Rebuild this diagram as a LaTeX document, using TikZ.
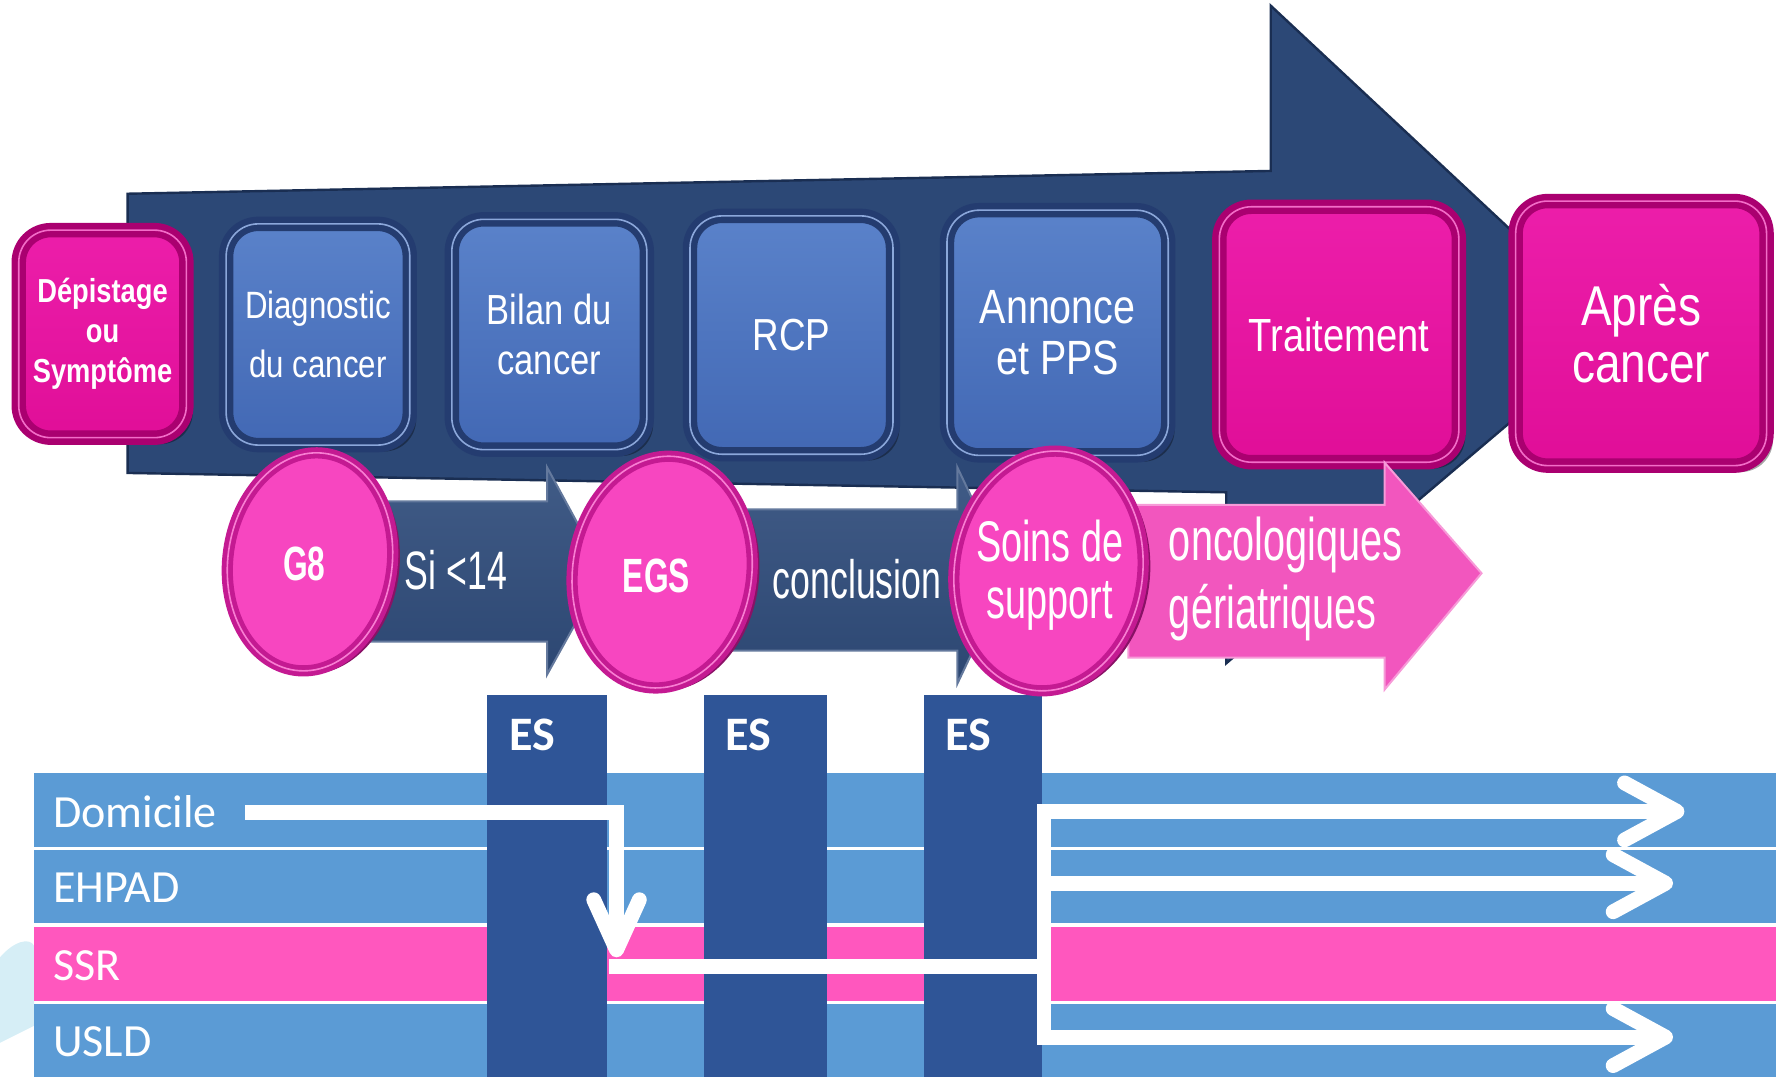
\documentclass[tikz,border=0pt]{standalone}
\usepackage{fontspec}
\usepackage{tikz}
\usetikzlibrary{arrows.meta,shapes}

\newfontfamily\boxfont[FakeStretch=0.82]{Liberation Sans}
\newfontfamily\tallfont[FakeStretch=0.66]{Liberation Sans}
\newfontfamily\bandfont{Carlito}

\definecolor{navy}{RGB}{44,72,118}
\definecolor{navyedge}{RGB}{26,46,82}
\definecolor{facetop}{RGB}{90,130,202}
\definecolor{facebot}{RGB}{66,104,180}
\definecolor{rimblue}{RGB}{36,60,112}
\definecolor{pinktop}{RGB}{236,30,170}
\definecolor{pinkbot}{RGB}{224,14,152}
\definecolor{rimpink}{RGB}{170,0,112}
\definecolor{ballpink}{RGB}{247,70,192}
\definecolor{ballrim}{RGB}{196,26,146}
\definecolor{hintpink}{RGB}{242,86,190}
\definecolor{darkarrow}{RGB}{48,77,124}
\definecolor{bandblue}{RGB}{91,155,213}
\definecolor{bandpink}{RGB}{255,87,190}
\definecolor{esblue}{RGB}{47,85,151}
\definecolor{haze}{RGB}{214,238,246}

\tikzstyle{stage}=[rectangle,rounded corners=8pt,inner sep=0pt,align=center,text=white,
  draw=rimblue,line width=1.6pt,double=facetop!70!white,double distance=0.4pt,
  top color=facetop,bottom color=facebot,
  preaction={fill=black,opacity=0.35,transform canvas={shift={(1.6pt,-1.6pt)}}}]
\tikzstyle{hot}=[stage,draw=rimpink,double=pinktop!65!white,top color=pinktop,bottom color=pinkbot]
\tikzstyle{ball}=[ellipse,inner sep=0pt,fill=ballpink,draw=ballrim,line width=1.2pt,
  double=ballpink!70!white,double distance=0.4pt,
  preaction={fill=ballrim!70!black,transform canvas={shift={(1.8pt,-0.8pt)}}}]
\tikzstyle{balltxt}=[text=white,font=\tallfont\bfseries\fontsize{12}{14}\selectfont]
\tikzstyle{lowtxt}=[text=white,inner sep=0pt,font=\tallfont\fontsize{13.5}{15}\selectfont]
\tikzstyle{hint}=[top color=darkarrow!92!white,bottom color=darkarrow!92!black,
  draw=darkarrow!75!white,line width=0.5pt]
\tikzstyle{band}=[rectangle,inner sep=0pt,minimum width=15.28cm]
\tikzstyle{bandtxt}=[text=white,inner sep=0pt,anchor=west,font=\bandfont\fontsize{11.5}{13}\selectfont]
\tikzstyle{esbar}=[rectangle,inner sep=0pt,fill=esblue,minimum height=3.35cm]
\tikzstyle{estxt}=[text=white,inner sep=0pt,anchor=west,font=\bandfont\bfseries\fontsize{12}{14}\selectfont]

\begin{document}
\begin{tikzpicture}[x=0.01cm,y=-0.01cm]
        \tikzset{flow/.style={draw=white,line width=0.13cm,>={Straight Barb[length=4.6mm,width=5mm,round]}}}
        \useasboundingbox (0,0) rectangle (1568,949);

        % faint swirl at the left edge
        \fill[haze] (0,840) .. controls (12,826) and (26,822) .. (30,830) -- (30,900)
          .. controls (18,906) and (6,912) .. (0,915) -- cycle;

        % big arrow behind the care pathway
        \fill[navy,draw=navyedge,line width=0.6pt] (112,170) -- (1115,150) -- (1115,5)
          -- (1420,290) -- (1076,582) -- (1076,432) -- (112,415) -- cycle;

        % steps of the pathway
        \node[hot,minimum width=1.47cm,minimum height=1.82cm,
          font=\boxfont\bfseries\fontsize{8.3}{10}\selectfont] (dep) at (90,293) {Dépistage\\ou\\Symptôme};
        \node[stage,minimum width=1.61cm,minimum height=1.94cm,
          font=\boxfont\fontsize{9.5}{14.8}\selectfont] (diag) at (279,293.5) {Diagnostic\\du cancer};
        \node[stage,minimum width=1.71cm,minimum height=2.02cm,
          font=\boxfont\fontsize{10.5}{12.5}\selectfont] (bilan) at (482,293.5) {Bilan du\\cancer};
        \node[stage,minimum width=1.78cm,minimum height=2.09cm,
          font=\boxfont\fontsize{11.2}{13}\selectfont] (rcp) at (694.5,294) {RCP};
        \node[stage,minimum width=1.94cm,minimum height=2.15cm,
          font=\boxfont\fontsize{12}{12.8}\selectfont] (pps) at (928,292) {Annonce\\et PPS};
        \node[hot,minimum width=2.10cm,minimum height=2.24cm,
          font=\boxfont\fontsize{11.6}{13}\selectfont] (trait) at (1175,293.5) {Traitement};
        \node[hot,minimum width=2.20cm,minimum height=2.32cm,
          font=\boxfont\fontsize{14}{14.2}\selectfont] (apres) at (1440,292.5) {Après\\cancer};

        % places of life
        \node[band,fill=bandblue,minimum height=0.65cm] (dom) at (794,710.5) {};
        \node[band,fill=bandblue,minimum height=0.64cm] (ehpad) at (794,778) {};
        \node[band,fill=bandpink,minimum height=0.65cm] (ssr) at (794,845.5) {};
        \node[band,fill=bandblue,minimum height=0.64cm] (usld) at (794,913) {};
        \node[bandtxt] (domt) at (46,712) {Domicile};
        \node[bandtxt] (ehpadt) at (46,779) {EHPAD};
        \node[bandtxt] (ssrt) at (46,847) {SSR};
        \node[bandtxt] (usldt) at (46,914) {USLD};

        \node[esbar,minimum width=1.06cm] (es1) at (480,777.5) {};
        \node[esbar,minimum width=1.08cm] (es2) at (672,777.5) {};
        \node[esbar,minimum width=1.03cm] (es3) at (862.5,777.5) {};
        \node[estxt] (es1t) at (446,645) {ES};
        \node[estxt] (es2t) at (636,645) {ES};
        \node[estxt] (es3t) at (829,645) {ES};

        \coordinate (domA) at (215,713);
        \coordinate (domB) at (541,713);
        \coordinate (ssrIn) at (541,840);
        \coordinate (ssrA) at (534,848);
        \coordinate (hub) at (916,848);
        \coordinate (hubTop) at (916,712);
        \coordinate (hubMid) at (916,775);
        \coordinate (hubBot) at (916,910);
        \coordinate (toDom) at (1478,712);
        \coordinate (toEhpad) at (1468,775);
        \coordinate (toUsld) at (1468,910);
        \draw[flow,->,>={Straight Barb[length=4.4mm,width=4mm,round]}] (domA) -- (domB) -- (ssrIn);
        \draw[flow] (ssrA) -- (hub);
        \draw[flow,line cap=rect] (hubTop) -- (hubBot);
        \draw[flow,->] (hubTop) -- (toDom);
        \draw[flow,->] (hubMid) -- (toEhpad);
        \draw[flow,->] (hubBot) -- (toUsld);

        % geriatric track
        \path[hint] (290,440) -- (480,440) -- (480,410) -- (530,502) -- (480,592)
          -- (480,563) -- (290,563) -- cycle;
        \path[hint] (640,447) -- (840,447) -- (840,410) -- (885,505) -- (840,600)
          -- (840,571) -- (640,571) -- cycle;
        \fill[hintpink,draw=hintpink!60!white,line width=0.5pt] (990,443) -- (1215,443)
          -- (1215,406) -- (1300,503) -- (1215,605) -- (1215,577) -- (990,577) -- cycle;
        \node[lowtxt] (si) at (400,500) {Si <14};
        \node[lowtxt] (concl) at (752,508) {conclusion};
        \node[lowtxt,anchor=west,align=left,font=\tallfont\fontsize{15}{17}\selectfont]
          (onco) at (1025,508) {oncologiques\\gériatriques};

        \node[ball,minimum width=1.44cm,minimum height=1.92cm,rotate=-8] (g8) at (272,493) {};
        \node[ball,minimum width=1.57cm,minimum height=2.04cm,rotate=-8] (egs) at (581,502) {};
        \node[ball,minimum width=1.65cm,minimum height=2.11cm,rotate=-8] (soins) at (920,501) {};
        \node[balltxt] (g8t) at (267,495) {G8};
        \node[balltxt] (egst) at (576,505) {EGS};
        \node[lowtxt,align=center,font=\tallfont\fontsize{14.3}{14.2}\selectfont] (soinst) at (921,505) {Soins de\\support};
\end{tikzpicture}
\end{document}
